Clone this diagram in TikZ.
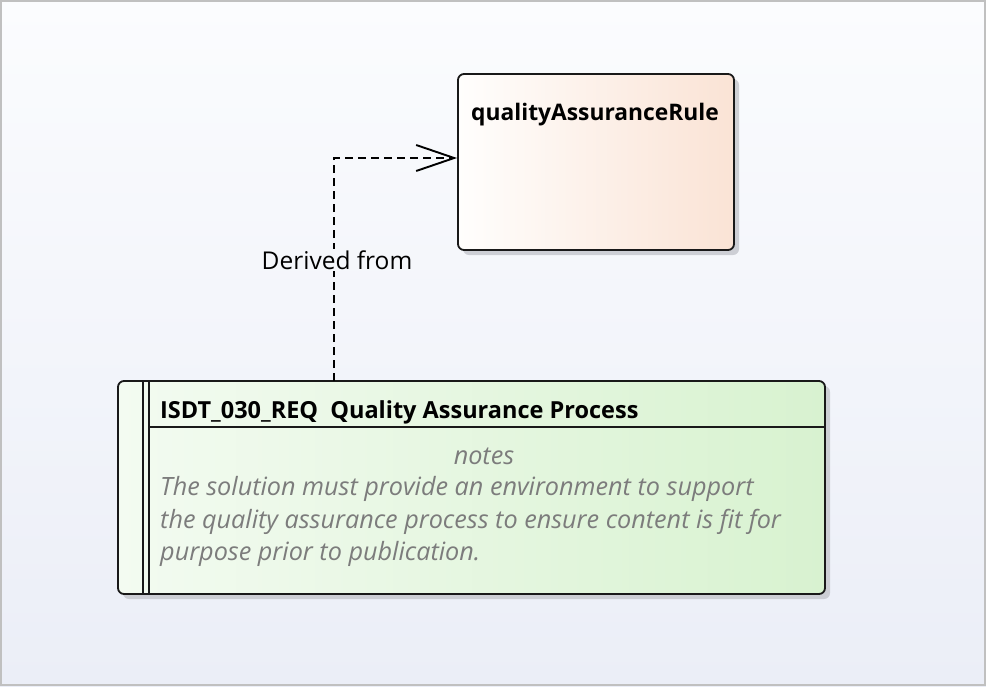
\documentclass[tikz,border=0pt]{standalone}
\usepackage{fontspec}
\setmainfont{Open Sans}
\usetikzlibrary{arrows.meta}
\definecolor{bgtop}{HTML}{FBFCFE}
\definecolor{bgbot}{HTML}{EBEEF7}
\definecolor{bgmid}{HTML}{F5F7FB}
\definecolor{frame}{HTML}{C0C0C0}
\definecolor{peachL}{HTML}{FFFEFD}
\definecolor{peachR}{HTML}{FAE3D5}
\definecolor{greenL}{HTML}{F3FBF1}
\definecolor{greenR}{HTML}{D8F2D0}
\definecolor{notegray}{HTML}{7C7C7C}
\definecolor{shadowc}{HTML}{C4C6CC}
\tikzset{
  x=1pt, y=-1pt,
  boxline/.style={draw=black!90, line width=1.8pt, rounded corners=6pt},
  shadowbox/.style={fill=shadowc, rounded corners=6pt, opacity=0.8},
  titletext/.style={font=\fontsize{22.8}{27}\selectfont\bfseries, inner sep=0pt, anchor=west},
  headtext/.style={font=\fontsize{23.5}{27}\selectfont\bfseries, inner sep=0pt, anchor=west},
  labeltext/.style={font=\fontsize{24.5}{28}\selectfont, inner sep=2pt},
  notetext/.style={font=\fontsize{25.2}{29}\selectfont\itshape, text=notegray, inner sep=0pt},
  connector/.style={line width=1.9pt, dash pattern=on 8pt off 5pt, -{Straight Barb[length=38pt,width=26pt,line width=1.9pt]}}
}
\begin{document}
\begin{tikzpicture}
\useasboundingbox (0,0) rectangle (986,686);
% background
\shade[top color=bgtop, bottom color=bgbot] (0,0) rectangle (986,686);
\draw[frame, line width=2pt] (1,1) rectangle (985,685);
% shadows
\fill[shadowbox] (463,79) rectangle (739,255);
\fill[shadowbox] (123,386) rectangle (830,599);
% top box
\shade[left color=peachL, right color=peachR, rounded corners=6pt] (458,74) rectangle (734,250);
\node[boxline, minimum width=276pt, minimum height=176pt, inner sep=0pt] (qar) at (596,162) {};
\node[titletext] (qartitle) at (471,115) {qualityAssuranceRule};
% bottom box
\shade[left color=greenL, right color=greenR, rounded corners=6pt] (118,381) rectangle (825,594);
\node[boxline, minimum width=707pt, minimum height=213pt, inner sep=0pt] (req) at (471.5,487.5) {};
\draw[line width=1.6pt, black!90] (143,381) -- (143,594);
\draw[line width=1.6pt, black!90] (149,381) -- (149,594);
\draw[line width=1.6pt, black!90] (149,427) -- (825,427);
\node[headtext] (reqtitle) at (160,412) {ISDT\_030\_REQ\ \ Quality Assurance Process};
\node[notetext] (notes) at (484,456) {notes};
\node[notetext, anchor=west] (n1) at (160,489) {The solution must provide an environment to support};
\node[notetext, anchor=west] (n2) at (160,522) {the quality assurance process to ensure content is fit for};
\node[notetext, anchor=west] (n3) at (160,554) {purpose prior to publication.};
% connector
\coordinate (src) at (334,381);
\draw[connector] (src) |- ([yshift=4pt]qar.west);
\node[labeltext, fill=bgmid] (lbl) at (337,260) {Derived from};
\end{tikzpicture}
\end{document}
